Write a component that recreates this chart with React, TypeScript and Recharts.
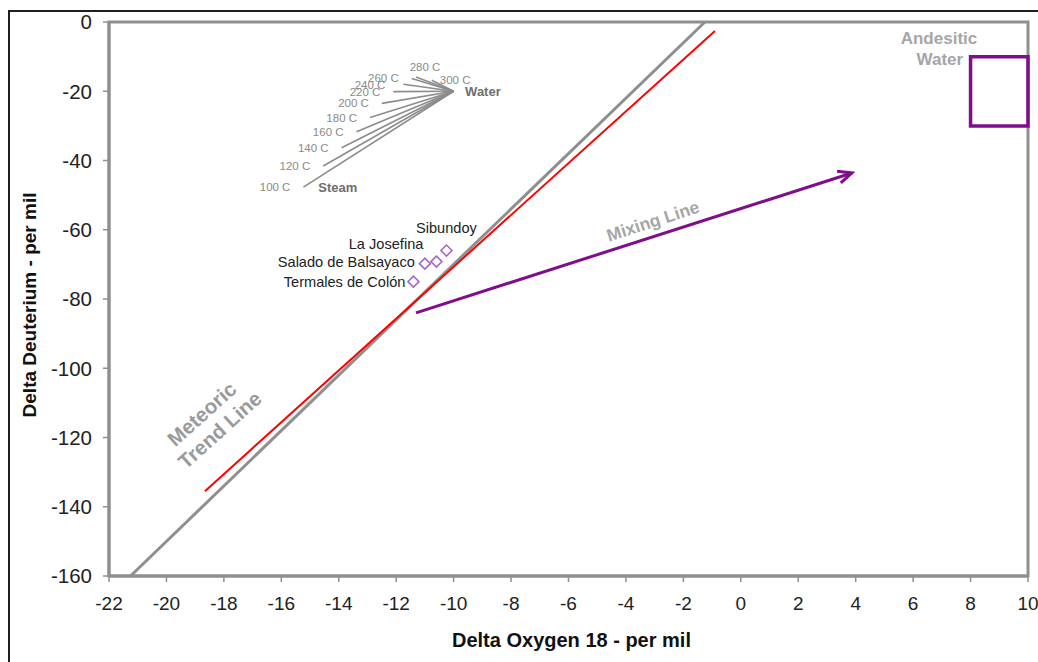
import React from 'react';
import { ComposedChart, XAxis, YAxis, Scatter, ReferenceLine, ReferenceArea } from 'recharts';

const FONT = '"Liberation Sans", Arial, Helvetica, sans-serif';

// ---- axes ----
const xTicks = [-22, -20, -18, -16, -14, -12, -10, -8, -6, -4, -2, 0, 2, 4, 6, 8, 10];
const yTicks = [-160, -140, -120, -100, -80, -60, -40, -20, 0];
const xDomain = [-22, 10];
const yDomain = [-160, 0];

// ---- lines ----
const meteoricX = [-21.25, -1.25];
const meteoricY = [-160, 0];
const localX = [-18.66, -0.9];
const localY = [-135.5, -2.6];
const mixingX = [-11.31, 3.87];
const mixingY = [-84.0, -43.6];
const andesiticX = [8, 10];
const andesiticY = [-30, -10];

// ---- steam separation fan ----
const waterX = -10;
const waterY = -20;
const steamLabels = ['100 C', '120 C', '140 C', '160 C', '180 C', '200 C', '220 C', '240 C', '260 C', '280 C', '300 C'];
const steamX = [-15.23, -14.54, -13.9, -13.38, -12.91, -12.5, -12.1, -11.75, -11.46, -11.31, -10.76];
const steamY = [-47.7, -41.6, -36.3, -31.7, -27.6, -23.5, -20.1, -18.0, -16.3, -15.9, -16.8];

// ---- samples ----
const sampleNames = ['Termales de Colón', 'Salado de Balsayaco', 'La Josefina', 'Sibundoy'];
const sampleX = [-11.4, -11.0, -10.6, -10.25];
const sampleY = [-75, -69.8, -69.2, -66];

// ---- annotations ----
const noteTexts = ['Steam', 'Water', 'Mixing Line', 'Andesitic', 'Water', 'Meteoric', 'Trend Line'];
const noteX = [-14.03, -8.98, -3.06, 6.9, 6.93, -18.77, -18.14];
const noteY = [-47.9, -20.2, -57.5, -4.6, -10.7, -113.2, -117.8];

// ---- styling (not data) ----
const NOTE_STYLE = [
  { size: 13, weight: 700, color: '#6e6e6e', angle: 0 },
  { size: 13, weight: 700, color: '#6e6e6e', angle: 0 },
  { size: 17.5, weight: 700, color: '#a6a6a6', angle: -18 },
  { size: 17, weight: 700, color: '#a6a6a6', angle: 0 },
  { size: 17, weight: 700, color: '#a6a6a6', angle: 0 },
  { size: 20.5, weight: 700, color: '#9a9a9a', angle: -42 },
  { size: 20.5, weight: 700, color: '#9a9a9a', angle: -42 },
];
const STEAM_LABEL_LAYOUT: Record<string, { dx: number; dy: number; anchor: string }> = {
  '240 C': { dx: -18, dy: 5, anchor: 'end' },
  '280 C': { dx: 9, dy: -6, anchor: 'middle' },
  '300 C': { dx: 8, dy: 4, anchor: 'start' },
};
const SAMPLE_LABEL_LAYOUT = [
  { dx: -8, dy: 5, anchor: 'end' },
  { dx: -10, dy: 3, anchor: 'end' },
  { dx: -13, dy: -13, anchor: 'end' },
  { dx: 0, dy: -18, anchor: 'middle' },
];

const GRAY = '#8f8f8f';
const PURPLE = '#800e8c';
const DIAMOND = '#a568c6';

const steamData = steamLabels.map((t, i) => ({ x: steamX[i], y: steamY[i], label: t }));
const sampleData = sampleNames.map((n, i) => ({ x: sampleX[i], y: sampleY[i], label: n, idx: i }));
const noteData = noteTexts.map((t, i) => ({ x: noteX[i], y: noteY[i], label: t, idx: i }));

const ArrowLine = (p: any) => {
  const { x1, y1, x2, y2 } = p;
  const ang = Math.atan2(y2 - y1, x2 - x1);
  const L = 15;
  const s = 0.42;
  const a1 = ang + Math.PI - s;
  const a2 = ang + Math.PI + s;
  return (
    <g>
      <line x1={x1} y1={y1} x2={x2} y2={y2} stroke={PURPLE} strokeWidth={3} />
      <polyline
        points={`${x2 + L * Math.cos(a1)},${y2 + L * Math.sin(a1)} ${x2},${y2} ${x2 + L * Math.cos(a2)},${y2 + L * Math.sin(a2)}`}
        fill="none"
        stroke={PURPLE}
        strokeWidth={3}
        strokeLinejoin="miter"
      />
    </g>
  );
};

const SteamLabel = (p: any) => {
  const { cx, cy, payload } = p;
  const lay = STEAM_LABEL_LAYOUT[payload.label] || { dx: -13, dy: 4, anchor: 'end' };
  return (
    <text x={cx + lay.dx} y={cy + lay.dy} textAnchor={lay.anchor as any} fontSize={11.5} fill="#8a8a8a" fontFamily={FONT}>
      {payload.label}
    </text>
  );
};

const SampleMark = (p: any) => {
  const { cx, cy, payload } = p;
  const lay = SAMPLE_LABEL_LAYOUT[payload.idx];
  const r = 5.5;
  return (
    <g>
      <polygon
        points={`${cx},${cy - r} ${cx + r},${cy} ${cx},${cy + r} ${cx - r},${cy}`}
        fill="none"
        stroke={DIAMOND}
        strokeWidth={1.6}
      />
      <text x={cx + lay.dx} y={cy + lay.dy} textAnchor={lay.anchor as any} fontSize={14.6} fill="#222" fontFamily={FONT}>
        {payload.label}
      </text>
    </g>
  );
};

const NoteMark = (p: any) => {
  const { cx, cy, payload } = p;
  const st = NOTE_STYLE[payload.idx];
  return (
    <text
      x={cx}
      y={cy}
      dy="0.35em"
      textAnchor="middle"
      fontSize={st.size}
      fontWeight={st.weight}
      fill={st.color}
      fontFamily={FONT}
      transform={st.angle ? `rotate(${st.angle} ${cx} ${cy})` : undefined}
    >
      {payload.label}
    </text>
  );
};

const XTitle = (p: any) => {
  const vb = p.viewBox || { x: 109, y: 576, width: 919, height: 86 };
  return (
    <text x={vb.x + vb.width / 2 + 3} y={647} textAnchor="middle" fontSize={20} fontWeight={700} fill="#111" fontFamily={FONT}>
      Delta Oxygen 18 - per mil
    </text>
  );
};

const YTitle = (p: any) => {
  const vb = p.viewBox || { x: 0, y: 22, width: 109, height: 554 };
  const cx = 36;
  const cy = vb.y + vb.height / 2 + 6;
  return (
    <text x={cx} y={cy} textAnchor="middle" fontSize={19} fontWeight={700} fill="#111" fontFamily={FONT} transform={`rotate(-90 ${cx} ${cy})`}>
      Delta Deuterium - per mil
    </text>
  );
};

export default function App() {
  return (
    <div style={{ position: 'fixed', left: 0, top: 0, width: 1038, height: 662, background: '#fff', overflow: 'hidden' }}>
      <div
        style={{
          position: 'absolute',
          left: 8,
          top: 10,
          width: 1040,
          height: 700,
          borderTop: '2px solid #1e1e1e',
          borderLeft: '2px solid #1e1e1e',
          boxSizing: 'border-box',
        }}
      />
      <div style={{ position: 'absolute', left: 0, top: 0 }}>
        <ComposedChart width={1038} height={662} margin={{ top: 22, right: 10, left: 0, bottom: 0 }}>
          <XAxis
            type="number"
            dataKey="x"
            domain={xDomain}
            ticks={xTicks}
            interval={0}
            allowDataOverflow
            height={86}
            axisLine={{ stroke: GRAY, strokeWidth: 3 }}
            tickLine={{ stroke: GRAY, strokeWidth: 1.5 }}
            tickSize={6}
            tickMargin={15}
            tick={{ fontSize: 19, fill: '#222', fontFamily: FONT }}
            label={{ value: 'Delta Oxygen 18 - per mil', content: XTitle }}
          />
          <YAxis
            type="number"
            dataKey="y"
            domain={yDomain}
            ticks={yTicks}
            interval={0}
            allowDataOverflow
            width={109}
            axisLine={{ stroke: GRAY, strokeWidth: 3 }}
            tickLine={{ stroke: GRAY, strokeWidth: 1.5 }}
            tickSize={6}
            tickMargin={11}
            tick={{ fontSize: 20.5, fill: '#222', fontFamily: FONT }}
            label={{ value: 'Delta Deuterium - per mil', content: YTitle }}
          />
          <ReferenceArea
            x1={xDomain[0]}
            x2={xDomain[1]}
            y1={yDomain[0]}
            y2={yDomain[1]}
            fill="none"
            fillOpacity={0}
            stroke={GRAY}
            strokeWidth={3}
            ifOverflow="visible"
          />
          <ReferenceLine
            segment={[{ x: meteoricX[0], y: meteoricY[0] }, { x: meteoricX[1], y: meteoricY[1] }]}
            stroke={GRAY}
            strokeWidth={3}
            ifOverflow="visible"
          />
          <ReferenceLine
            segment={[{ x: localX[0], y: localY[0] }, { x: localX[1], y: localY[1] }]}
            stroke="#ff0000"
            strokeWidth={2}
            ifOverflow="visible"
          />
          {steamData.map((d) => (
            <ReferenceLine
              key={d.label}
              segment={[{ x: d.x, y: d.y }, { x: waterX, y: waterY }]}
              stroke="#8c8c8c"
              strokeWidth={1.6}
              ifOverflow="visible"
            />
          ))}
          <ReferenceLine
            segment={[{ x: mixingX[0], y: mixingY[0] }, { x: mixingX[1], y: mixingY[1] }]}
            stroke={PURPLE}
            strokeWidth={3}
            shape={ArrowLine}
            ifOverflow="visible"
          />
          <ReferenceArea
            x1={andesiticX[0]}
            x2={andesiticX[1]}
            y1={andesiticY[0]}
            y2={andesiticY[1]}
            fill="none"
            fillOpacity={0}
            stroke={PURPLE}
            strokeWidth={3.5}
            ifOverflow="visible"
          />
          <Scatter data={steamData} shape={SteamLabel} isAnimationActive={false} />
          <Scatter data={sampleData} shape={SampleMark} isAnimationActive={false} />
          <Scatter data={noteData} shape={NoteMark} isAnimationActive={false} />
        </ComposedChart>
      </div>
    </div>
  );
}
